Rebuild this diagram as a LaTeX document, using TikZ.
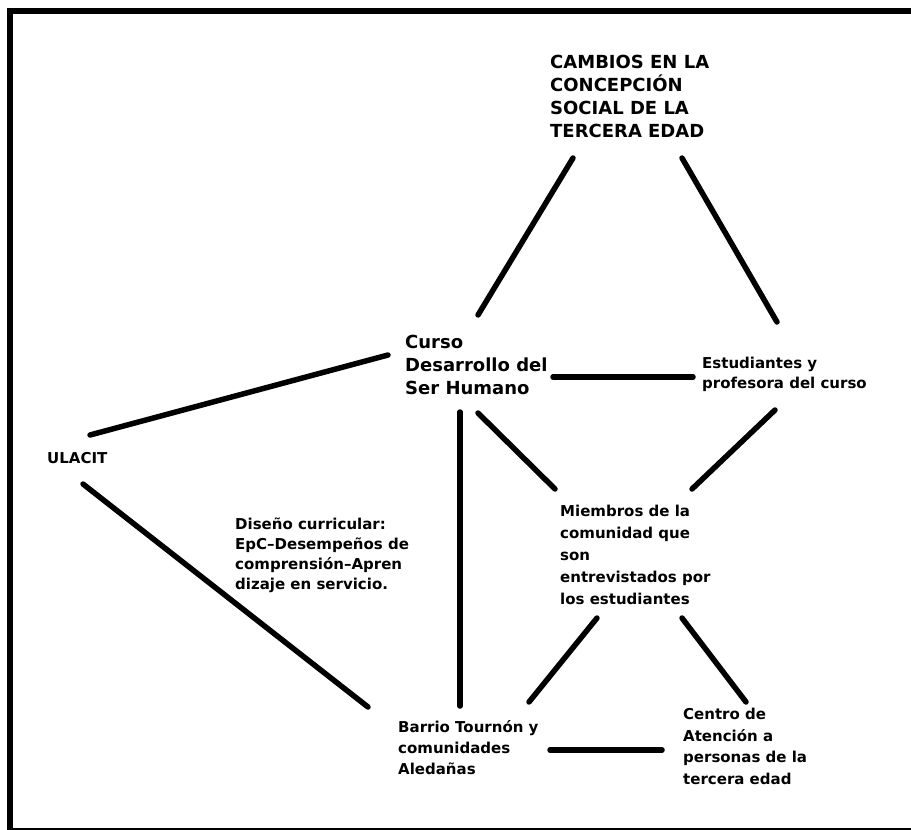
\documentclass[tikz,border=0pt]{standalone}
\usepackage{fontspec}
\setmainfont{DejaVu Sans}
\usetikzlibrary{calc}

\begin{document}
\begin{tikzpicture}[x=1pt,y=-1pt,
  lbl/.style={anchor=north west,inner sep=0pt,align=left,
    font=\bfseries\fontsize{15}{21}\selectfont},
  big/.style={lbl,font=\bfseries\fontsize{18}{23}\selectfont},
  link/.style={line width=5.5pt,line cap=round}]
  \useasboundingbox (0,0) rectangle (911,830);
  % frame
  \draw[line width=6pt] (7,11)--(911,11);
  \draw[line width=6pt] (10,8)--(10,830);
  \draw[line width=2pt] (7,829)--(911,829);

  \node[big] (cambios) at (550,55) {CAMBIOS EN LA\\CONCEPCIÓN\\SOCIAL DE LA\\TERCERA EDAD};
  \node[big] (curso) at (405,335) {Curso\\Desarrollo del\\Ser Humano};
  \node[lbl,font=\bfseries\fontsize{15}{20}\selectfont] (estud) at (702,357) {Estudiantes y\\profesora del curso};
  \node[lbl] (ulacit) at (47,452) {ULACIT};
  \node[lbl,font=\bfseries\fontsize{15}{20}\selectfont] (diseno) at (235,518)
    {Diseño curricular:\\EpC\textendash Desempeños de\\comprensión\textendash Apren\\dizaje en servicio.};
  \node[lbl,font=\bfseries\fontsize{15}{22}\selectfont] (miembros) at (560,505)
    {Miembros de la\\comunidad que\\son\\entrevistados por\\los estudiantes};
  \node[lbl] (barrio) at (398,720) {Barrio Tournón y\\comunidades\\Aledañas};
  \node[lbl,font=\bfseries\fontsize{15}{21.5}\selectfont] (centro) at (683,708)
    {Centro de\\Atención a\\personas de la\\tercera edad};

  \draw[link] ($(cambios.north west)+(23,103)$)--($(curso.north west)+(73,-20)$);
  \draw[link] ($(cambios.north west)+(132,103)$)--($(estud.north west)+(75,-35)$);
  \draw[link] ($(curso.north west)+(148,42)$)--($(estud.north west)+(-9,20)$);
  \draw[link] ($(curso.north west)+(-17,20)$)--($(ulacit.north west)+(43,-17)$);
  \draw[link] ($(curso.north west)+(55,77)$)--($(barrio.north west)+(62,-14)$);
  \draw[link] ($(curso.north west)+(73,78)$)--($(miembros.north west)+(-5,-16)$);
  \draw[link] ($(estud.north west)+(73,53)$)--($(miembros.north west)+(132,-16)$);
  \draw[link] ($(ulacit.north west)+(36,32)$)--($(barrio.north west)+(-30,-13)$);
  \draw[link] ($(miembros.north west)+(37,113)$)--($(barrio.north west)+(131,-18)$);
  \draw[link] ($(miembros.north west)+(122,113)$)--($(centro.north west)+(63,-6)$);
  \draw[link] ($(barrio.north west)+(152,30)$)--($(centro.north west)+(-21,42)$);
\end{tikzpicture}
\end{document}
